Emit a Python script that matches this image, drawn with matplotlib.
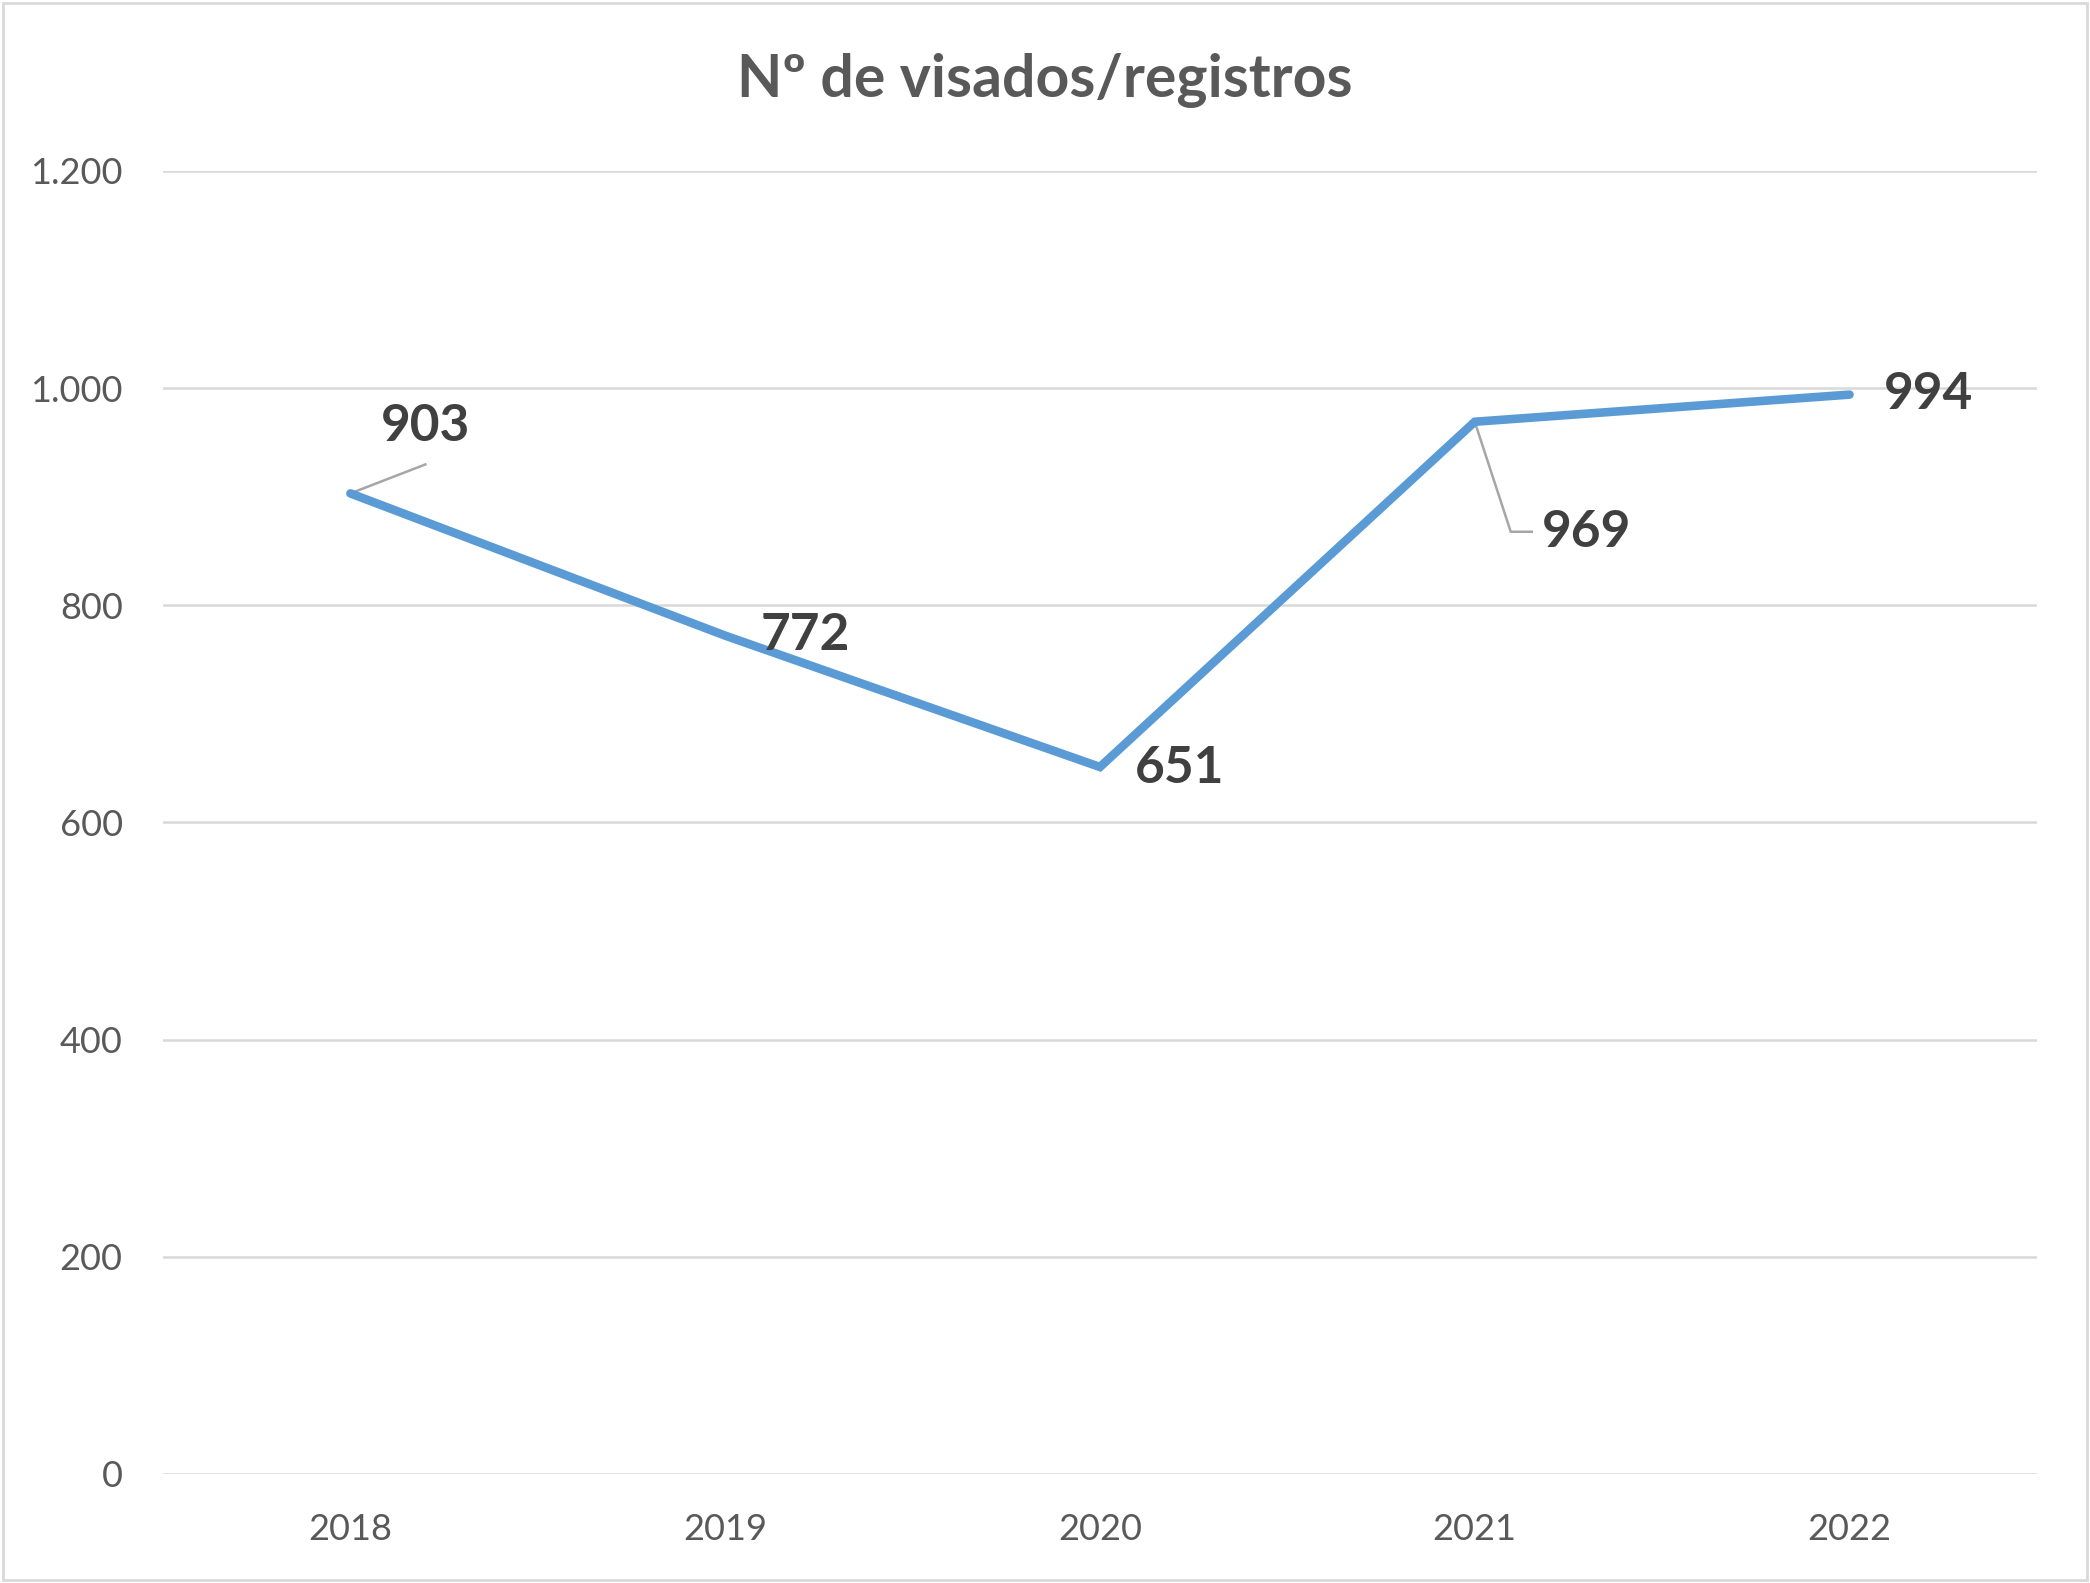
import matplotlib.pyplot as plt
import matplotlib.ticker as mtick
from matplotlib.transforms import ScaledTranslation
from matplotlib.patches import Rectangle

years = ['2018', '2019', '2020', '2021', '2022']
visados = [903, 772, 651, 969, 994]
y_ticks = [0, 200, 400, 600, 800, 1000, 1200]

# label offsets in pixels (dx, dy) from each point
label_offsets = [(75, 67), (80, 0), (80, -2), (112, -111), (79, 0)]

plt.rcParams['font.family'] = ['Lato', 'DejaVu Sans']

fig = plt.figure(figsize=(20.9, 15.83), dpi=100)
ax = fig.add_axes([0.078, 0.069, 0.8966, 0.823])

x = list(range(len(years)))
ax.plot(x, visados, color='#5B9BD5', linewidth=6.2, solid_capstyle='round',
        solid_joinstyle='miter', zorder=3)

ax.set_xlim(-0.5, len(years) - 0.5)
ax.set_ylim(0, 1200)
ax.set_yticks(y_ticks)
ax.yaxis.set_major_formatter(mtick.FuncFormatter(lambda v, p: f'{int(v):,}'.replace(',', '.')))
ax.set_xticks(x)
ax.set_xticklabels(years)
ax.tick_params(axis='both', length=0, labelsize=26, labelcolor='#595959')
ax.tick_params(axis='y', pad=29)
ax.tick_params(axis='x', pad=28)
ax.grid(axis='y', color='#D9D9D9', linewidth=1.8)
ax.set_axisbelow(True)
for s in ax.spines.values():
    s.set_visible(False)

for i, (v, (dx, dy)) in enumerate(zip(visados, label_offsets)):
    ax.annotate(str(v), (i, v), xytext=(dx, dy), textcoords='offset pixels',
                ha='center', va='center', fontsize=37, fontweight='bold',
                color='#404040', zorder=4)

# leader lines for labels moved away from their points
def leader(i, pts):
    xs, ys = [], []
    for dx, dy in pts:
        t = ax.transData + ScaledTranslation(dx / 100, dy / 100, fig.dpi_scale_trans)
        px, py = t.transform((i, visados[i]))
        xs.append(px)
        ys.append(py)
    ax.plot(xs, ys, transform=None, color='#A6A6A6', linewidth=1.8, zorder=2)

leader(0, [(0, 0), (75, 29)])
leader(3, [(0, 0), (36, -110), (57, -110)])

fig.text(0.5, 1 - 81 / 1583, 'Nº de visados/registros', ha='center', va='center',
         fontsize=42.5, fontweight='bold', color='#595959')

fig.patches.append(Rectangle((0.0015, 0.002), 0.997, 0.996, transform=fig.transFigure,
                             fill=False, edgecolor='#D9D9D9', linewidth=2))

fig.savefig('out.png', dpi=100)
